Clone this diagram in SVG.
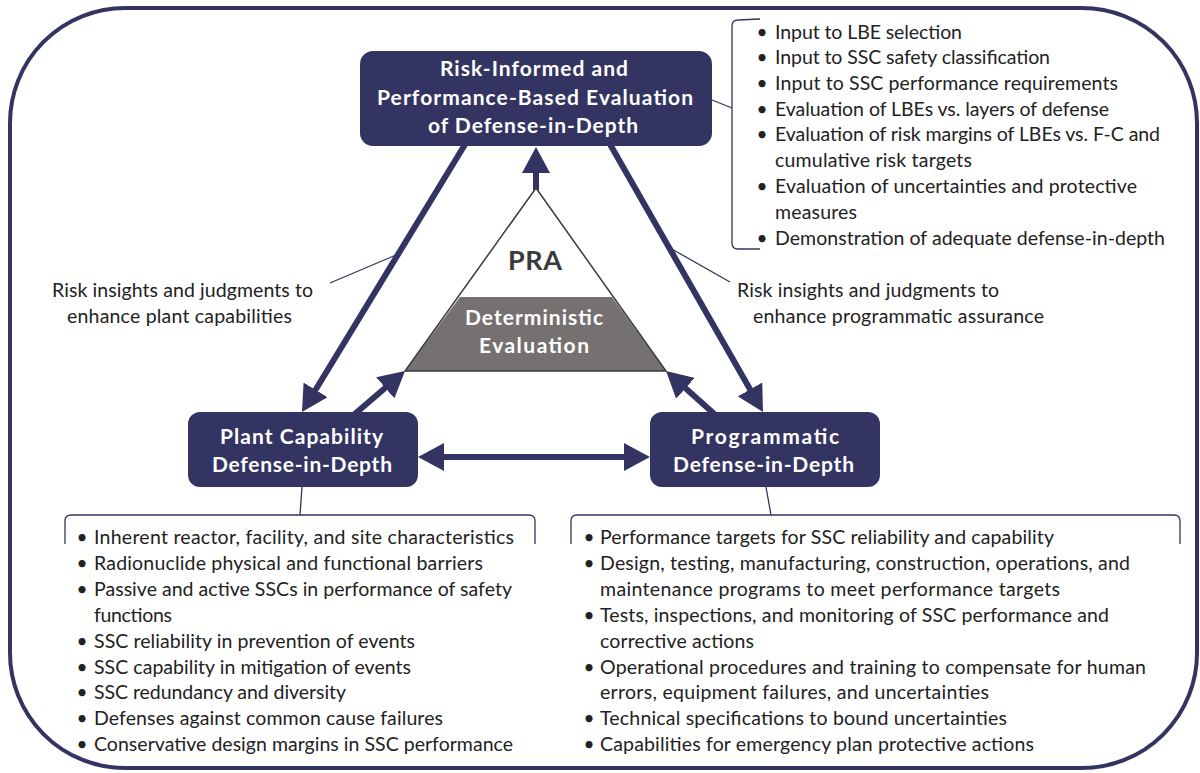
<svg xmlns="http://www.w3.org/2000/svg" width="1200" height="773" viewBox="0 0 1200 773">
<defs>
<style>
.frame{fill:none;stroke:#343463;stroke-width:4}
.box{fill:#343463}
.title{font-family:Lato,'Liberation Sans',sans-serif;font-weight:700;font-size:21px;fill:#ffffff;text-anchor:middle}
.body{font-family:Lato,'Liberation Sans',sans-serif;font-weight:400;font-size:19.5px;fill:#222222}
.bul{font-family:Lato,'Liberation Sans',sans-serif;font-size:19px;fill:#222222;text-anchor:middle}
.arrow{stroke:#343463;stroke-width:6;fill:none}
.thin{stroke:#343463;stroke-width:1.3;fill:none}
</style>
<marker id="ah" viewBox="0 0 26 28" refX="1" refY="14" markerWidth="26" markerHeight="28" markerUnits="userSpaceOnUse" orient="auto-start-reverse">
<path d="M0,0 L26,14 L0,28 z" fill="#343463"/>
</marker>
</defs>
<rect width="1200" height="773" fill="#ffffff"/>
<rect id="frame" class="frame" x="10" y="8" width="1187" height="760" rx="115" ry="115"/>

<g id="connectors">
<line class="arrow" x1="536" y1="190" x2="536" y2="172" marker-end="url(#ah)"/>
<line class="arrow" x1="467.7" y1="140" x2="315" y2="390.7" marker-end="url(#ah)"/>
<line class="arrow" x1="607.6" y1="140" x2="750.6" y2="390.3" marker-end="url(#ah)"/>
<line class="arrow" x1="353" y1="415.5" x2="386" y2="387.2" marker-end="url(#ah)"/>
<line class="arrow" x1="716" y1="415.5" x2="684.7" y2="387.6" marker-end="url(#ah)"/>
<line class="arrow" x1="443" y1="457" x2="625" y2="457" marker-start="url(#ah)" marker-end="url(#ah)"/>
<line class="thin" x1="330" y1="283" x2="396" y2="255"/>
<line class="thin" x1="730" y1="282" x2="670" y2="248"/>
<line class="thin" x1="712" y1="100" x2="732" y2="108"/>
<line class="thin" x1="302" y1="487" x2="300" y2="515"/>
<line class="thin" x1="766" y1="487" x2="771" y2="515"/>
<path class="thin" d="M760,19 L738,20 Q732,20 732,26 L732,243 Q732,249 738,249 L760,249"/>
<path class="thin" d="M65,544 L65,521 Q65,515 71,515 L529,515 Q535,515 535,521 L535,544"/>
<path class="thin" d="M571,544 L571,521 Q571,515 577,515 L1174,515 Q1180,515 1180,521 L1180,544"/>
</g>

<g id="node-pra-triangle">
<polygon points="536,188 460,297 612,297" fill="#ffffff"/>
<polygon points="460,297 612,297 666,371 405,371" fill="#767171"/>
<polygon points="536,188 666,371 405,371" fill="none" stroke="#3a3a3a" stroke-width="1.5" stroke-linejoin="miter"/>
<text x="535" y="270" font-family="Lato,'Liberation Sans',sans-serif" font-weight="700" font-size="27" fill="#3a3a3a" text-anchor="middle" textLength="54">PRA</text>
<text class="title" x="534" y="325" textLength="138">Deterministic</text>
<text class="title" x="534" y="353" textLength="110">Evaluation</text>
</g>

<g id="node-top">
<rect class="box" x="360" y="51" width="352" height="95" rx="13"/>
<text class="title" x="534" y="76" textLength="188">Risk-Informed and</text>
<text class="title" x="535" y="105" textLength="316">Performance-Based Evaluation</text>
<text class="title" x="533" y="133" textLength="210">of Defense-in-Depth</text>
</g>

<g id="node-plant">
<rect class="box" x="188" y="412" width="230" height="75" rx="12"/>
<text class="title" x="301.5" y="444" textLength="163">Plant Capability</text>
<text class="title" x="302" y="472" textLength="180">Defense-in-Depth</text>
</g>

<g id="node-programmatic">
<rect class="box" x="650" y="412" width="230" height="75" rx="12"/>
<text class="title" x="765" y="444" textLength="148">Programmatic</text>
<text class="title" x="763.5" y="472" textLength="181">Defense-in-Depth</text>
</g>

<g id="label-left">
<text class="body" x="52" y="297" textLength="261">Risk insights and judgments to</text>
<text class="body" x="67" y="323" textLength="225">enhance plant capabilities</text>
</g>

<g id="label-right">
<text class="body" x="737" y="297" textLength="262">Risk insights and judgments to</text>
<text class="body" x="753" y="323" textLength="291">enhance programmatic assurance</text>
</g>

<g id="list-top">
<text class="bul" x="762" y="38.7">•</text>
<text class="body" x="775" y="38.7" textLength="187">Input to LBE selection</text>
<text class="bul" x="762" y="63.7">•</text>
<text class="body" x="775" y="63.7" textLength="275">Input to SSC safety classification</text>
<text class="bul" x="762" y="90.3">•</text>
<text class="body" x="775" y="90.3" textLength="343">Input to SSC performance requirements</text>
<text class="bul" x="762" y="116.3">•</text>
<text class="body" x="775" y="116.3" textLength="334">Evaluation of LBEs vs. layers of defense</text>
<text class="bul" x="762" y="141.3">•</text>
<text class="body" x="775" y="141.3" textLength="385">Evaluation of risk margins of LBEs vs. F-C and</text>
<text class="body" x="775" y="167" textLength="197">cumulative risk targets</text>
<text class="bul" x="762" y="192.7">•</text>
<text class="body" x="775" y="192.7" textLength="362">Evaluation of uncertainties and protective</text>
<text class="body" x="775" y="218.7" textLength="82">measures</text>
<text class="bul" x="762" y="244.7">•</text>
<text class="body" x="775" y="244.7" textLength="390">Demonstration of adequate defense-in-depth</text>
</g>

<g id="list-plant">
<text class="bul" x="82" y="544.3">•</text>
<text class="body" x="94" y="544.3" textLength="420">Inherent reactor, facility, and site characteristics</text>
<text class="bul" x="82" y="570.3">•</text>
<text class="body" x="94" y="570.3" textLength="389">Radionuclide physical and functional barriers</text>
<text class="bul" x="82" y="596.3">•</text>
<text class="body" x="94" y="596.3" textLength="418">Passive and active SSCs in performance of safety</text>
<text class="body" x="94" y="622" textLength="78">functions</text>
<text class="bul" x="82" y="648">•</text>
<text class="body" x="94" y="648" textLength="321">SSC reliability in prevention of events</text>
<text class="bul" x="82" y="673.7">•</text>
<text class="body" x="94" y="673.7" textLength="317">SSC capability in mitigation of events</text>
<text class="bul" x="82" y="699.3">•</text>
<text class="body" x="94" y="699.3" textLength="252">SSC redundancy and diversity</text>
<text class="bul" x="82" y="725.3">•</text>
<text class="body" x="94" y="725.3" textLength="349">Defenses against common cause failures</text>
<text class="bul" x="82" y="751.3">•</text>
<text class="body" x="94" y="751.3" textLength="419">Conservative design margins in SSC performance</text>
</g>

<g id="list-programmatic">
<text class="bul" x="589" y="544.3">•</text>
<text class="body" x="600" y="544.3" textLength="454">Performance targets for SSC reliability and capability</text>
<text class="bul" x="589" y="570.3">•</text>
<text class="body" x="600" y="570.3" textLength="530">Design, testing, manufacturing, construction, operations, and</text>
<text class="body" x="600" y="596.3" textLength="460">maintenance programs to meet performance targets</text>
<text class="bul" x="589" y="622">•</text>
<text class="body" x="600" y="622" textLength="509">Tests, inspections, and monitoring of SSC performance and</text>
<text class="body" x="600" y="648" textLength="154">corrective actions</text>
<text class="bul" x="589" y="673.7">•</text>
<text class="body" x="600" y="673.7" textLength="546">Operational procedures and training to compensate for human</text>
<text class="body" x="600" y="699.3" textLength="389">errors, equipment failures, and uncertainties</text>
<text class="bul" x="589" y="725.3">•</text>
<text class="body" x="600" y="725.3" textLength="407">Technical specifications to bound uncertainties</text>
<text class="bul" x="589" y="751.3">•</text>
<text class="body" x="600" y="751.3" textLength="434">Capabilities for emergency plan protective actions</text>
</g>
</svg>
